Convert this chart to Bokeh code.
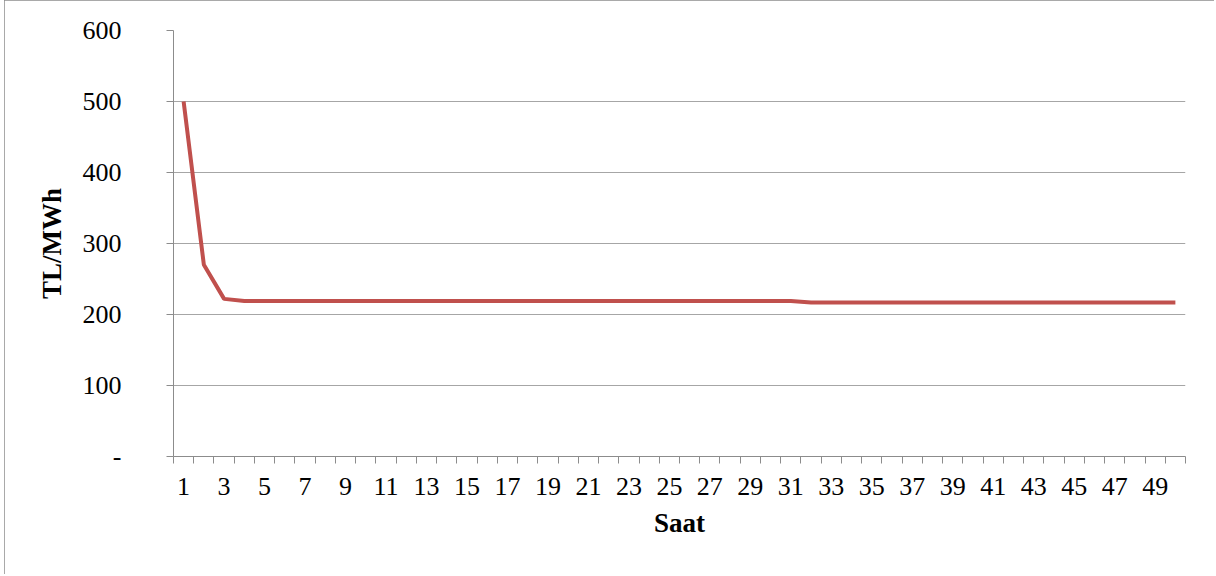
from bokeh.plotting import figure
from bokeh.models import FixedTicker, Range1d
from bokeh.embed import file_html
from bokeh.resources import INLINE

hours = [1, 2, 3, 4, 5, 6, 7, 8, 9, 10, 11, 12, 13, 14, 15, 16, 17, 18, 19, 20,
         21, 22, 23, 24, 25, 26, 27, 28, 29, 30, 31, 32, 33, 34, 35, 36, 37, 38, 39, 40,
         41, 42, 43, 44, 45, 46, 47, 48, 49, 50]
prices = [500, 270, 222, 219, 219, 219, 219, 219, 219, 219,
          219, 219, 219, 219, 219, 219, 219, 219, 219, 219,
          219, 219, 219, 219, 219, 219, 219, 219, 219, 219,
          219, 217, 217, 217, 217, 217, 217, 217, 217, 217,
          217, 217, 217, 217, 217, 217, 217, 217, 217, 217]
y_ticks = [0, 100, 200, 300, 400, 500, 600]
x_label_ticks = [1, 3, 5, 7, 9, 11, 13, 15, 17, 19, 21, 23, 25, 27, 29, 31, 33, 35, 37, 39,
                 41, 43, 45, 47, 49]

FONT = "Liberation Serif"
p = figure(width=1210, height=574, output_backend="svg", toolbar_location=None,
           x_range=Range1d(0.5, len(hours) + 0.5), y_range=Range1d(0, 600),
           min_border_left=169, min_border_right=29, min_border_top=30, min_border_bottom=118)
p.styles = {"outline": "2px solid #8c8c8c", "outline-offset": "-2px", "margin-left": "4px"}
p.outline_line_color = None
p.background_fill_color = "white"
p.border_fill_color = "white"

p.line(hours, prices, line_color="#C0504D", line_width=4)

# y axis
p.yaxis.ticker = FixedTicker(ticks=y_ticks)
p.yaxis.major_label_overrides = {0: "-"}
p.yaxis.minor_tick_line_color = None
p.yaxis.major_tick_out = 7
p.yaxis.major_tick_in = 0
p.yaxis.major_tick_line_color = "#8c8c8c"
p.yaxis.axis_line_color = "#8c8c8c"
p.yaxis.major_label_standoff = 45
p.yaxis.major_label_text_font = FONT
p.yaxis.major_label_text_font_size = "26px"
p.yaxis.major_label_text_color = "black"
p.yaxis.axis_label = "TL/MWh"
p.yaxis.axis_label_text_font = FONT
p.yaxis.axis_label_text_font_size = "27px"
p.yaxis.axis_label_text_font_style = "bold"
p.yaxis.axis_label_text_color = "black"
p.yaxis.axis_label_standoff = 13

# x axis
bounds = [h - 0.5 for h in hours] + [hours[-1] + 0.5]
p.xaxis.ticker = FixedTicker(ticks=x_label_ticks, minor_ticks=bounds)
p.xaxis.major_tick_line_color = None
p.xaxis.minor_tick_line_color = "#8c8c8c"
p.xaxis.minor_tick_out = 7
p.xaxis.minor_tick_in = 0
p.xaxis.axis_line_color = "#8c8c8c"
p.xaxis.major_label_standoff = 14
p.xaxis.major_label_text_font = FONT
p.xaxis.major_label_text_font_size = "26px"
p.xaxis.major_label_text_color = "black"
p.xaxis.axis_label = "Saat"
p.xaxis.axis_label_text_font = FONT
p.xaxis.axis_label_text_font_size = "27px"
p.xaxis.axis_label_text_font_style = "bold"
p.xaxis.axis_label_text_color = "black"
p.xaxis.axis_label_standoff = 10

p.xgrid.grid_line_color = None
p.ygrid.ticker = FixedTicker(ticks=y_ticks)
p.ygrid.grid_line_color = "#a6a6a6"
p.ygrid.grid_line_width = 1.2

open("out.html", "w").write(file_html(p, INLINE))
